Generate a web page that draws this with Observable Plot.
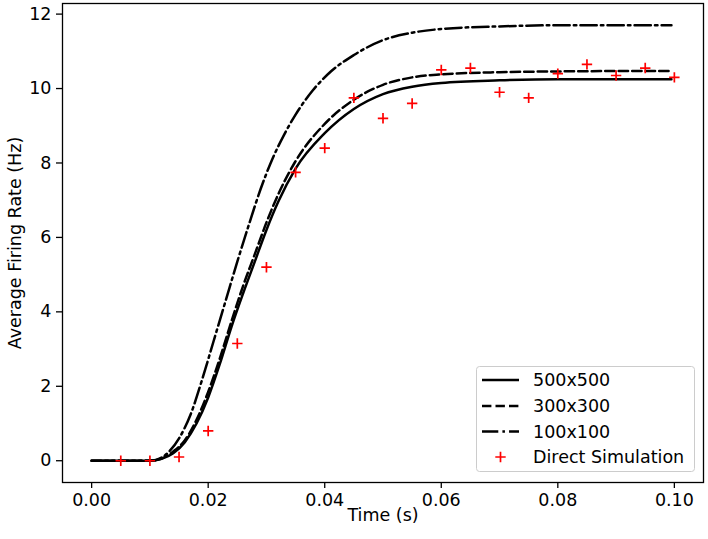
<!DOCTYPE html>
<html>
<head>
<meta charset="utf-8">
<script src="https://cdn.jsdelivr.net/npm/d3@7"></script>
<script src="https://cdn.jsdelivr.net/npm/@observablehq/plot@0.6"></script>
<style>
  body { margin: 0; background: #fff; }
  #wrap { position: relative; width: 708px; height: 539px; font-family: "DejaVu Sans", sans-serif; }
  #legend { position: absolute; left: 476px; top: 366px; }
</style>
</head>
<body>
<div id="wrap"></div>
<script>
// ---- data ----
const t500 = [0, 0.010, 0.012, 0.014, 0.016, 0.018, 0.020, 0.022, 0.024, 0.026, 0.028, 0.030, 0.032, 0.035, 0.040, 0.045, 0.050, 0.055, 0.060, 0.070, 0.080, 0.090, 0.0995];
const rate500 = [0, 0, 0.05, 0.2, 0.5, 1.0, 1.7, 2.6, 3.6, 4.5, 5.35, 6.2, 6.95, 7.85, 8.8, 9.45, 9.85, 10.05, 10.15, 10.22, 10.25, 10.25, 10.25];

const t300 = [0, 0.010, 0.012, 0.014, 0.016, 0.018, 0.020, 0.022, 0.024, 0.026, 0.028, 0.030, 0.032, 0.035, 0.040, 0.045, 0.050, 0.055, 0.060, 0.070, 0.080, 0.090, 0.0995];
const rate300 = [0, 0, 0.06, 0.25, 0.55, 1.1, 1.85, 2.75, 3.75, 4.7, 5.55, 6.4, 7.15, 8.05, 9.05, 9.7, 10.1, 10.3, 10.38, 10.44, 10.46, 10.47, 10.47];

const t100 = [0, 0.010, 0.011, 0.013, 0.015, 0.017, 0.019, 0.021, 0.023, 0.025, 0.027, 0.029, 0.031, 0.033, 0.035, 0.038, 0.041, 0.045, 0.050, 0.055, 0.060, 0.070, 0.080, 0.090, 0.0995];
const rate100 = [0, 0, 0.02, 0.2, 0.6, 1.25, 2.2, 3.25, 4.3, 5.35, 6.35, 7.3, 8.1, 8.75, 9.3, 9.96, 10.45, 10.9, 11.3, 11.5, 11.6, 11.67, 11.7, 11.7, 11.7];

const simT = [0.005, 0.010, 0.015, 0.020, 0.025, 0.030, 0.035, 0.040, 0.045, 0.050, 0.055, 0.060, 0.065, 0.070, 0.075, 0.080, 0.085, 0.090, 0.095, 0.100];
const simRate = [0, 0, 0.1, 0.8, 3.15, 5.2, 7.75, 8.4, 9.75, 9.2, 9.6, 10.5, 10.55, 9.9, 9.75, 10.4, 10.65, 10.35, 10.55, 10.3];

const xTicks = [0, 0.02, 0.04, 0.06, 0.08, 0.10];
const yTicks = [0, 2, 4, 6, 8, 10, 12];

const seriesLabels = ["500x500", "300x300", "100x100", "Direct Simulation"];
const xLabel = "Time (s)";
const yLabel = "Average Firing Rate (Hz)";

// ---- build tables ----
const d500 = t500.map((t, i) => ({t, v: rate500[i]}));
const d300 = t300.map((t, i) => ({t, v: rate300[i]}));
const d100 = t100.map((t, i) => ({t, v: rate100[i]}));
const sim = simT.map((t, i) => ({t, v: simRate[i]}));

const plusSymbol = {
  draw(ctx, size) {
    const h = Math.sqrt(size / Math.PI);
    ctx.moveTo(-h, 0); ctx.lineTo(h, 0);
    ctx.moveTo(0, -h); ctx.lineTo(0, h);
  }
};

const dash = "9.4,4.1";
const dashDot = "16.3,4.1,2.55,4.1";
const lw = 2.5;
const fs = "17.5px";

const plot = Plot.plot({
  width: 708,
  height: 539,
  marginLeft: 62,
  marginRight: 5,
  marginTop: 3,
  marginBottom: 57,
  style: { fontFamily: '"DejaVu Sans", sans-serif', fontSize: fs, color: "black", background: "white", overflow: "visible" },
  x: { domain: [-0.005, 0.105] },
  y: { domain: [-0.585, 12.285] },
  marks: [
    Plot.line(d500, { x: "t", y: "v", stroke: "black", strokeWidth: lw, curve: "monotone-x" }),
    Plot.line(d300, { x: "t", y: "v", stroke: "black", strokeWidth: lw, strokeDasharray: dash, curve: "monotone-x" }),
    Plot.line(d100, { x: "t", y: "v", stroke: "black", strokeWidth: lw, strokeDasharray: dashDot, curve: "monotone-x" }),
    Plot.dot(sim, { x: "t", y: "v", symbol: plusSymbol, r: 5.2, stroke: "red", strokeWidth: 1.7, fill: "none" }),
    Plot.axisX({ ticks: xTicks, tickFormat: d => d.toFixed(2), tickSize: 6, tickPadding: 5, label: null, strokeWidth: 1.3 }),
    Plot.axisY({ ticks: yTicks, tickFormat: d => String(d), tickSize: 6, tickPadding: 5, label: null, strokeWidth: 1.3 }),
    Plot.frame({ stroke: "black", strokeWidth: 1.3 }),
    Plot.text([xLabel], { frameAnchor: "bottom", dy: 33, lineAnchor: "middle", textAnchor: "middle", text: d => d, fill: "black" }),
    Plot.text([yLabel], { frameAnchor: "left", dx: -47, rotate: -90, lineAnchor: "middle", textAnchor: "middle", text: d => d, fill: "black" })
  ]
});

const wrap = document.getElementById("wrap");
wrap.appendChild(plot);

// ---- legend ----
const lgW = 219, lgH = 106;
const rowsY = [14, 40, 65.5, 91];
const dashes = [null, dash, dashDot, null];
const ns = "http://www.w3.org/2000/svg";
const lg = document.createElementNS(ns, "svg");
lg.setAttribute("id", "legend");
lg.setAttribute("width", lgW);
lg.setAttribute("height", lgH);
const box = document.createElementNS(ns, "rect");
box.setAttribute("x", 0.5); box.setAttribute("y", 0.5);
box.setAttribute("width", lgW - 1); box.setAttribute("height", lgH - 1);
box.setAttribute("rx", 3);
box.setAttribute("fill", "rgba(255,255,255,0.8)");
box.setAttribute("stroke", "#cccccc");
box.setAttribute("stroke-width", 1);
lg.appendChild(box);
seriesLabels.forEach((lab, i) => {
  const y = rowsY[i];
  if (i < 3) {
    const ln = document.createElementNS(ns, "line");
    ln.setAttribute("x1", 6); ln.setAttribute("x2", 43);
    ln.setAttribute("y1", y); ln.setAttribute("y2", y);
    ln.setAttribute("stroke", "black");
    ln.setAttribute("stroke-width", lw);
    if (dashes[i]) ln.setAttribute("stroke-dasharray", dashes[i]);
    lg.appendChild(ln);
  } else {
    const p = document.createElementNS(ns, "path");
    p.setAttribute("d", `M${24.5 - 5.2},${y}H${24.5 + 5.2}M24.5,${y - 5.2}V${y + 5.2}`);
    p.setAttribute("stroke", "red");
    p.setAttribute("stroke-width", 1.7);
    lg.appendChild(p);
  }
  const tx = document.createElementNS(ns, "text");
  tx.setAttribute("x", 57);
  tx.setAttribute("y", y);
  tx.setAttribute("dy", "0.35em");
  tx.setAttribute("font-family", '"DejaVu Sans", sans-serif');
  tx.setAttribute("font-size", fs);
  tx.setAttribute("fill", "black");
  tx.textContent = lab;
  lg.appendChild(tx);
});
wrap.appendChild(lg);
</script>
</body>
</html>
